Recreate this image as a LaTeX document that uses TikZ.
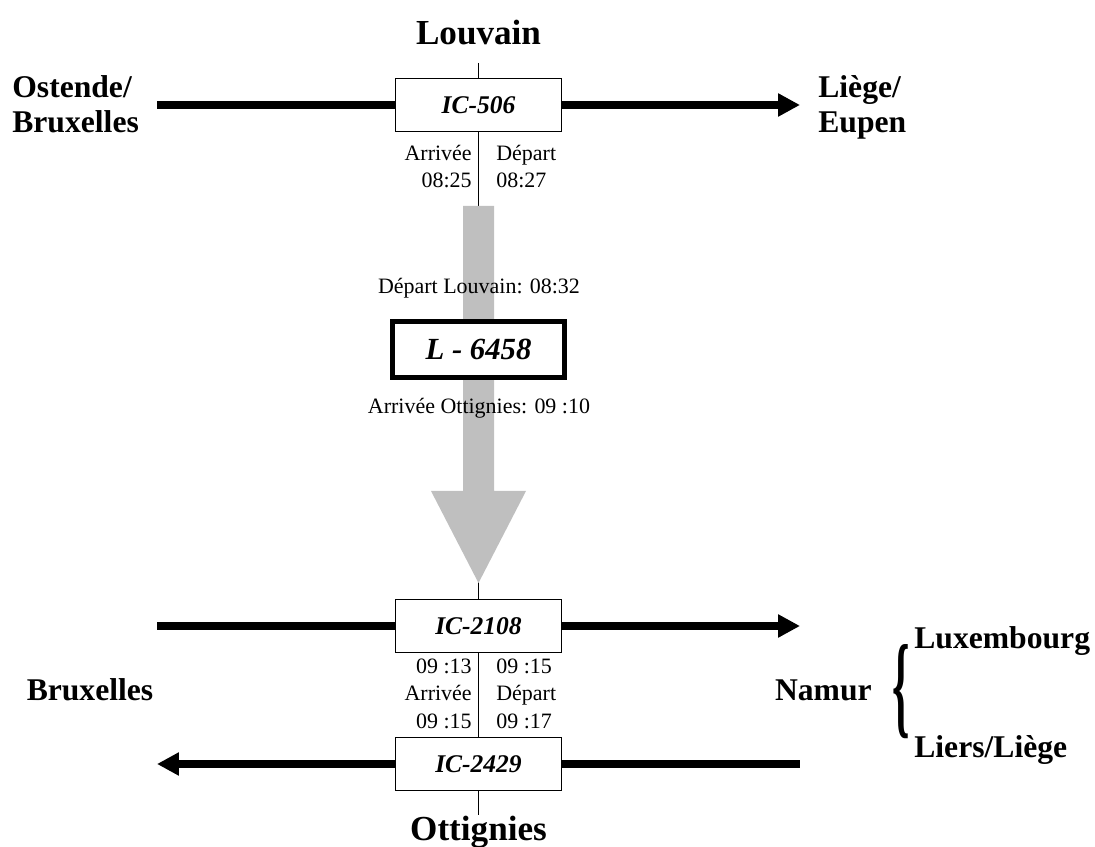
\documentclass[tikz,border=0pt]{standalone}
\usepackage{fontspec}
\setmainfont{Liberation Serif}
\usepackage{graphicx}
\usepackage{tikz}
\usetikzlibrary{arrows.meta, backgrounds, positioning}
\tikzset{>={Triangle[length=12.5pt,width=12.5pt]},
  train/.style={draw, line width=0.8pt, fill=white, minimum width=3.32cm, minimum height=1.06cm, inner sep=0pt, font=\fontsize{14.5}{17}\selectfont\bfseries\itshape},
  city/.style={font=\fontsize{18}{20.4}\selectfont\bfseries, inner sep=0pt},
  hour/.style={font=\fontsize{12.5}{15.6}\selectfont, inner sep=0pt},
  rail/.style={line width=4pt},
  track/.style={line width=0.8pt}}

\begin{document}
\begin{tikzpicture}[x=0.02cm, y=-0.02cm]
\useasboundingbox (0,0) rectangle (1095,847);

\node[train] (ic506) at (478.5,105) {IC-506};
\node[train, line width=2.8pt, minimum width=3.44cm, minimum height=1.12cm, font=\fontsize{17.5}{20}\selectfont\bfseries\itshape] (l6458) at (478.5,349.5) {L - 6458};
\node[train] (ic2108) at (478.5,626) {IC-2108};
\node[train] (ic2429) at (478.5,764) {IC-2429};

\coordinate (nord) at (478.5,63);
\coordinate (sud) at (478.5,815);
\coordinate (w1) at (157,105);
\coordinate (e1) at (800,105);
\coordinate (w2) at (157,626);
\coordinate (e2) at (800,626);
\coordinate (w3) at (157,764);
\coordinate (e3) at (800,764);

\begin{scope}[on background layer]
\draw[track] (nord) -- (ic506) -- (ic2108) -- (ic2429) -- (sud);
\fill[black!25] (463,206) -- (494,206) -- (494,491) -- (526,491) -- (478.5,583) -- (431,491) -- (463,491) -- cycle;
\end{scope}

\draw[rail] (w1) -- (ic506);
\draw[rail,->] (ic506) -- (e1);
\draw[rail] (w2) -- (ic2108);
\draw[rail,->] (ic2108) -- (e2);
\draw[rail,<-] (w3) -- (ic2429);
\draw[rail] (ic2429) -- (e3);

\node[city, font=\fontsize{20}{22}\selectfont\bfseries, anchor=base] (louvain) at (478.5,45) {Louvain};
\node[city, font=\fontsize{20}{22}\selectfont\bfseries, anchor=base] (ottignies) at (478.5,840) {Ottignies};
\node[city, align=left, anchor=base west] (ostende) at (12,133) {Ostende/\\Bruxelles};
\node[city, align=left, anchor=base west] (liege) at (818,133) {Liège/\\Eupen};
\node[city, anchor=base] (bruxelles) at (90,700) {Bruxelles};
\node[city, anchor=base east] (namur) at (872,700) {Namur};
\node[inner sep=0pt] (accolade) at (901,692) {\scalebox{1.4}[3.6]{\fontsize{18}{18}\selectfont\bfseries\{}};
\node[city, anchor=base west] (luxembourg) at (914,648) {Luxembourg};
\node[city, anchor=base west] (liers) at (914,757) {Liers/Liège};

\node[hour, align=right, anchor=base east] (arr1) at (472,188) {Arrivée\\08:25};
\node[hour, align=left, anchor=base west] (dep1) at (496,188) {Départ\\08:27};
\node[hour] (deplouvain) at (479,288) {Départ Louvain: 08:32};
\node[hour] (arrottignies) at (479,408) {Arrivée Ottignies: 09 :10};
\node[hour, align=right, anchor=base east] (arr2) at (472,728) {09 :13\\Arrivée\\09 :15};
\node[hour, align=left, anchor=base west] (dep2) at (496,728) {09 :15\\Départ\\09 :17};
\end{tikzpicture}
\end{document}
